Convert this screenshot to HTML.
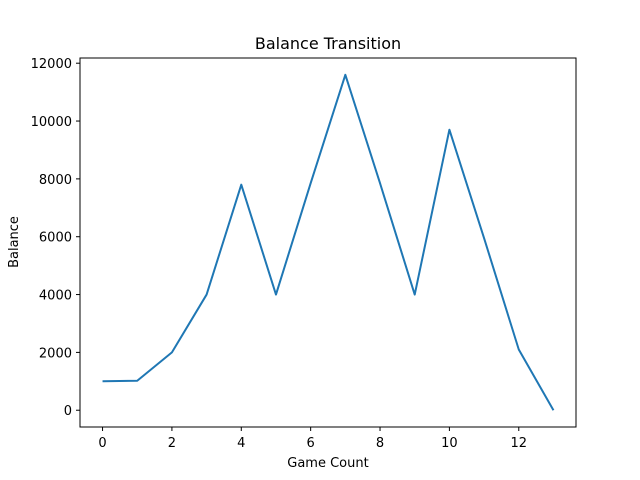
<!DOCTYPE html>
<html><head><meta charset="utf-8"><style>
body{margin:0;background:#fff;}
svg{display:block;font-family:"DejaVu Sans","Liberation Sans",sans-serif;}
</style></head><body>
<svg id="chart" width="640" height="480">
<rect width="640" height="480" fill="#fff"/>
<text x="328" y="49" text-anchor="middle" font-size="16" fill="#000">Balance Transition</text>
<g id="ticks"></g>
<polyline id="line" fill="none" stroke="#1f77b4" stroke-width="2" stroke-linejoin="round"/>
<rect x="80" y="58" width="496" height="369" fill="none" stroke="#000" stroke-width="1"/>
<text x="328" y="467" text-anchor="middle" font-size="13">Game Count</text>
<text transform="translate(18,242) rotate(-90)" text-anchor="middle" font-size="13">Balance</text>
</svg>
<script>
const games=[0,1,2,3,4,5,6,7,8,9,10,11,12,13];
const balances=[1000,1020,2000,4000,7800,4000,7850,11600,7850,4000,9700,5950,2100,0];
const xTicks=[0,2,4,6,8,10,12];
const yTicks=[0,2000,4000,6000,8000,10000,12000];
const x0=80,x1=576,y0=427,y1=58;
const xmin=-0.65,xmax=13.65,ymin=-580,ymax=12180;
function sx(v){return x0+(v-xmin)/(xmax-xmin)*(x1-x0);}
function sy(v){return y0-(v-ymin)/(ymax-ymin)*(y0-y1);}
const ns="http://www.w3.org/2000/svg";
const g=document.getElementById('ticks');
xTicks.forEach(t=>{
 const l=document.createElementNS(ns,'line');
 l.setAttribute('x1',sx(t));l.setAttribute('x2',sx(t));l.setAttribute('y1',427);l.setAttribute('y2',431);l.setAttribute('stroke','#000');
 
 
 g.appendChild(l);
 const tx=document.createElementNS(ns,'text');
 tx.setAttribute('x',sx(t));tx.setAttribute('y',447);tx.setAttribute('text-anchor','middle');tx.setAttribute('font-size','13');
 tx.textContent=t;
 
 
 g.appendChild(tx);
});
yTicks.forEach(t=>{
 const l=document.createElementNS(ns,'line');
 l.setAttribute('x1',76);l.setAttribute('x2',80);l.setAttribute('y1',sy(t));l.setAttribute('y2',sy(t));l.setAttribute('stroke','#000');
 
 
 g.appendChild(l);
 const tx=document.createElementNS(ns,'text');
 tx.setAttribute('x',72);tx.setAttribute('y',sy(t)+5);tx.setAttribute('text-anchor','end');tx.setAttribute('font-size','13');
 tx.textContent=t;
 
 
 g.appendChild(tx);
});
document.getElementById('line').setAttribute('points',games.map((x,i)=>sx(x)+','+sy(balances[i])).join(' '));
</script>
</body></html>
